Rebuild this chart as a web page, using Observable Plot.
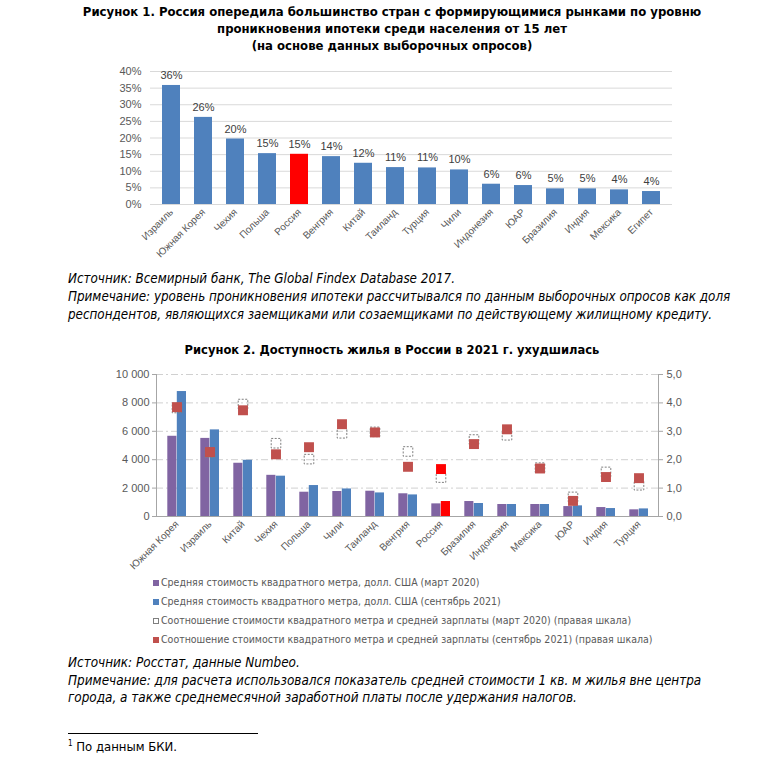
<!DOCTYPE html>
<html><head><meta charset="utf-8">
<script src="https://cdn.jsdelivr.net/npm/d3@7"></script>
<script src="https://cdn.jsdelivr.net/npm/@observablehq/plot@0.6"></script>
<style>
body{margin:0;background:#fff;width:784px;height:775px;position:relative;overflow:hidden;}
.abs{position:absolute;}
.title{left:0;width:784px;text-align:center;font-family:"DejaVu Sans Condensed",sans-serif;font-weight:bold;font-size:13px;color:#000;white-space:nowrap;}
.note{left:68px;width:716px;font-family:"DejaVu Sans Condensed",sans-serif;font-style:italic;font-size:13.3px;color:#000;white-space:nowrap;}
.legend{left:153px;font-family:"DejaVu Sans Condensed",sans-serif;font-size:10.5px;color:#595959;line-height:19px;white-space:nowrap;}
.legend .sw{display:inline-block;width:6px;height:6px;margin-right:2px;vertical-align:0px;box-sizing:border-box;}
#c1,#c2{left:0;}
</style></head>
<body>
<div class="abs title" id="t1" style="top:3px;line-height:17px;"></div>
<div class="abs" id="c1" style="top:60px;"></div>
<div class="abs note" id="n1" style="top:270px;line-height:18px;"></div>
<div class="abs title" id="t2" style="top:341px;line-height:18px;font-size:12.8px;"></div>
<div class="abs" id="c2" style="top:365px;"></div>
<div class="abs legend" id="lg" style="top:573px;"></div>
<div class="abs note" id="n2" style="top:654px;line-height:17.5px;font-size:13.4px;"></div>
<div class="abs" style="top:733px;left:68px;width:190px;height:1px;background:#000;"></div>
<div class="abs" id="fn" style="top:739px;left:68px;font-family:'DejaVu Sans Condensed',sans-serif;font-size:13px;"></div>
<script>
// ---------- Text ----------
const title1Lines = ["Рисунок 1. Россия опередила большинство стран с формирующимися рынками по уровню",
  "проникновения ипотеки среди населения от 15 лет", "(на основе данных выборочных опросов)"];
const note1Lines = ["Источник: Всемирный банк, The Global Findex Database 2017.",
  "Примечание: уровень проникновения ипотеки рассчитывался по данным выборочных опросов как доля",
  "респондентов, являющихся заемщиками или созаемщиками по действующему жилищному кредиту."];
const title2 = "Рисунок 2. Доступность жилья в России в 2021 г. ухудшилась";
const legendLabels = ["Средняя стоимость квадратного метра, долл. США (март 2020)",
  "Средняя стоимость квадратного метра, долл. США (сентябрь 2021)",
  "Соотношение стоимости квадратного метра и средней зарплаты (март 2020) (правая шкала)",
  "Соотношение стоимости квадратного метра и средней зарплаты (сентябрь 2021) (правая шкала)"];
const note2Lines = ["Источник: Росстат, данные Numbeo.",
  "Примечание: для расчета использовался показатель средней стоимости 1 кв. м жилья вне центра",
  "города, а также среднемесячной заработной платы после удержания налогов."];
const footnote = "По данным БКИ.";

// ---------- Data: chart 1 ----------
const countries1 = ["Израиль","Южная Корея","Чехия","Польша","Россия","Венгрия","Китай","Таиланд","Турция","Чили","Индонезия","ЮАР","Бразилия","Индия","Мексика","Египет"];
const penetration = [35.8,26.2,19.7,15.3,15.1,14.4,12.4,11.1,11.0,10.4,6.1,5.7,4.7,4.7,4.4,3.9];
const penetrationLabels = ["36%","26%","20%","15%","15%","14%","12%","11%","11%","10%","6%","6%","5%","5%","4%","4%"];
const yTicks1 = [0,5,10,15,20,25,30,35,40];

// ---------- Data: chart 2 ----------
const countries2 = ["Южная Корея","Израиль","Китай","Чехия","Польша","Чили","Таиланд","Венгрия","Россия","Бразилия","Индонезия","Мексика","ЮАР","Индия","Турция"];
const price2020 = [5650,5500,3750,2900,1710,1760,1780,1600,890,1055,845,845,700,630,470];
const price2021 = [8800,6100,3960,2840,2180,1940,1660,1520,1055,915,845,845,750,560,535];
const ratio2020 = [3.82,2.25,3.96,2.58,2.02,2.93,2.98,2.29,1.37,2.71,2.86,1.72,0.69,1.57,1.10];
const ratio2021 = [3.85,2.27,3.74,2.19,2.44,3.25,2.96,1.75,1.67,2.55,3.07,1.69,0.55,1.39,1.35];
const yTicks2 = [0,2000,4000,6000,8000,10000];
const ratioScale = 2000; // 5,0 on the right axis ↔ 10 000 on the left

const highlight = "Россия";
const BLUE = "#4f81bd", PURPLE = "#8064a2", RED = "#ff0000", DARKRED = "#c0504d", GREY = "#595959";

// ---------- Texts into page ----------
document.getElementById("t1").innerHTML = title1Lines.join("<br>");
document.getElementById("n1").innerHTML = note1Lines.join("<br>");
document.getElementById("t2").textContent = title2;
document.getElementById("n2").innerHTML = note2Lines.join("<br>");
document.getElementById("fn").innerHTML = "<sup style='font-size:8px'>1</sup> " + footnote;
const swatches = [
  `background:${PURPLE}`, `background:${BLUE}`,
  `border:1px dashed #7f7f7f;background:#fff`, `background:${DARKRED}`];
document.getElementById("lg").innerHTML = legendLabels.map((l,i)=>`<div><span class="sw" style="${swatches[i]}"></span>${l}</div>`).join("");

// ---------- Chart 1 ----------
const data1 = countries1.map((c,i)=>({country:c, value:penetration[i], label:penetrationLabels[i]}));
const axisFont = "'Liberation Sans', Arial, sans-serif";
const chart1 = Plot.plot({
  width:784, height:200, marginLeft:150, marginRight:112, marginTop:11, marginBottom:56,
  style:{fontFamily:axisFont, color:GREY, background:"transparent"},
  x:{domain:countries1, paddingInner:0.45, paddingOuter:0.2, label:null},
  y:{domain:[0,40], label:null},
  color:{type:"identity"},
  marks:[
    Plot.gridY(yTicks1, {stroke:"#d9d9d9", strokeOpacity:1}),
    Plot.barY(data1, {x:"country", y:"value", fill:d=>d.country===highlight?RED:BLUE}),
    Plot.text(data1, {x:"country", y:"value", text:"label", dy:-10, fontSize:11, fill:"#404040"}),
    Plot.axisY(yTicks1, {tickSize:0, tickPadding:9, tickFormat:d=>d+"%", fontSize:11, label:null}),
    Plot.axisX({tickSize:0, tickPadding:6, tickRotate:-45, fontSize:10, label:null})
  ]
});
document.getElementById("c1").appendChild(chart1);

// ---------- Chart 2 ----------
const data2 = countries2.map((c,i)=>({country:c, p2020:price2020[i], p2021:price2021[i], r2020:ratio2020[i], r2021:ratio2021[i]}));
const fmtThousands = d=>d3.format(",")(d).replace(/,/g," ");
const chart2 = Plot.plot({
  width:784, height:210, marginLeft:156, marginRight:126, marginTop:9, marginBottom:59,
  style:{fontFamily:axisFont, color:GREY, background:"transparent"},
  x:{domain:countries2, paddingInner:0.43, paddingOuter:0.2, label:null},
  y:{domain:[0,10000], label:null},
  color:{type:"identity"},
  marks:[
    Plot.gridY(yTicks2.slice(1), {stroke:"#d0d0d0", strokeOpacity:1, strokeDasharray:"7,3,2,3"}),
    Plot.barY(data2, {x:"country", y:"p2020", fill:PURPLE, insetRight:9.6, insetLeft:0.3}),
    Plot.barY(data2, {x:"country", y:"p2021", fill:d=>d.country===highlight?RED:BLUE, insetLeft:9.8}),
    Plot.dot(data2, {x:"country", y:d=>d.r2020*ratioScale, symbol:"square", r:5.4, fill:"none", stroke:"#7f7f7f", strokeWidth:1, strokeDasharray:"2,1.5"}),
    Plot.dot(data2, {x:"country", y:d=>d.r2021*ratioScale, symbol:"square", r:5.6, fill:d=>d.country===highlight?RED:DARKRED, stroke:"none"}),
    Plot.ruleY([0], {stroke:"#a6a6a6", strokeWidth:1.2}),
    Plot.frame({anchor:"left", stroke:"#a6a6a6"}),
    Plot.frame({anchor:"right", stroke:"#a6a6a6"}),
    Plot.axisY(yTicks2, {anchor:"left", tickSize:4, stroke:"#a6a6a6", tickPadding:3, tickFormat:fmtThousands, fontSize:11, label:null}),
    Plot.axisY(yTicks2, {anchor:"right", tickSize:4, stroke:"#a6a6a6", tickPadding:4, tickFormat:d=>(d/ratioScale).toFixed(1).replace(".",","), fontSize:11, label:null}),
    Plot.axisX({tickSize:0, tickPadding:6, tickRotate:-45, fontSize:10, label:null})
  ]
});
document.getElementById("c2").appendChild(chart2);
</script>
</body></html>
